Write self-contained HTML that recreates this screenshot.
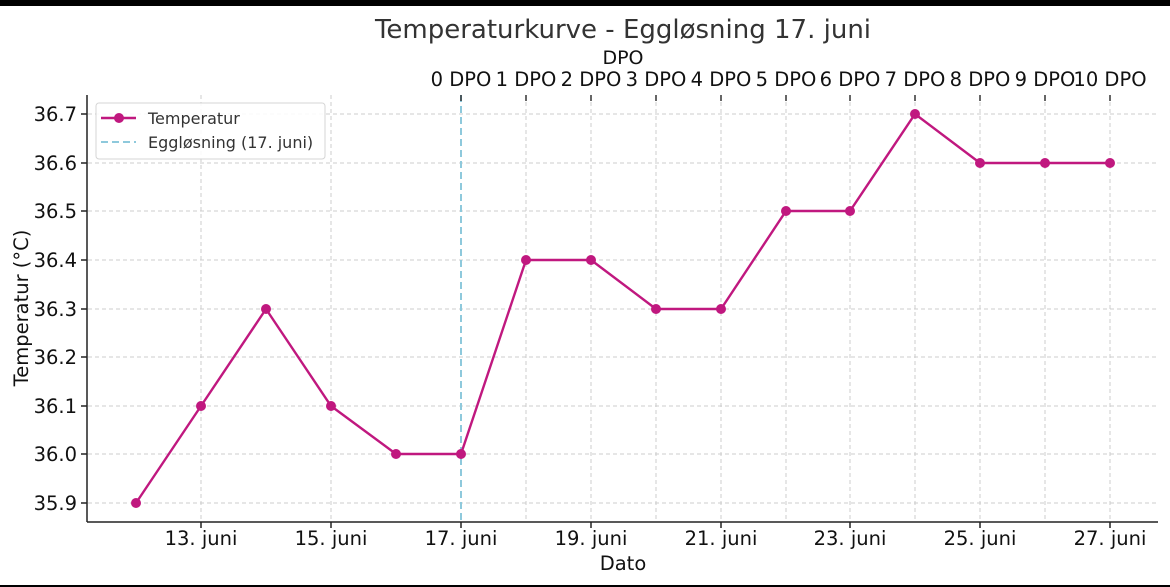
<!DOCTYPE html>
<html><head><meta charset="utf-8"><style>body{margin:0;background:#fff}svg{display:block;font-family:"DejaVu Sans","Liberation Sans",sans-serif}</style></head>
<body>
<svg width="1170" height="587" viewBox="0 0 1170 587" xmlns="http://www.w3.org/2000/svg">
<rect x="0" y="0" width="1170" height="6" fill="#000"/>
<rect x="0" y="585" width="1170" height="2" fill="#000"/>
<text x="623" y="38" font-size="26" text-anchor="middle" fill="#333">Temperaturkurve - Eggløsning 17. juni</text>
<text x="623" y="64" font-size="19" text-anchor="middle" fill="#111">DPO</text>
<g stroke="#cccccc" stroke-width="1" stroke-dasharray="4,3">
<line x1="88" x2="1158" y1="114" y2="114"/><line x1="88" x2="1158" y1="163" y2="163"/><line x1="88" x2="1158" y1="211" y2="211"/><line x1="88" x2="1158" y1="260" y2="260"/><line x1="88" x2="1158" y1="309" y2="309"/><line x1="88" x2="1158" y1="357" y2="357"/><line x1="88" x2="1158" y1="406" y2="406"/><line x1="88" x2="1158" y1="454" y2="454"/><line x1="88" x2="1158" y1="503" y2="503"/>
<line x1="201" x2="201" y1="95" y2="522"/><line x1="331" x2="331" y1="95" y2="522"/><line x1="526" x2="526" y1="95" y2="522"/><line x1="591" x2="591" y1="95" y2="522"/><line x1="656" x2="656" y1="95" y2="522"/><line x1="721" x2="721" y1="95" y2="522"/><line x1="786" x2="786" y1="95" y2="522"/><line x1="850" x2="850" y1="95" y2="522"/><line x1="915" x2="915" y1="95" y2="522"/><line x1="980" x2="980" y1="95" y2="522"/><line x1="1045" x2="1045" y1="95" y2="522"/><line x1="1110" x2="1110" y1="95" y2="522"/>
</g>
<line x1="461" x2="461" y1="95" y2="522" stroke="#8ec9dc" stroke-width="2" stroke-dasharray="7,4"/>
<g stroke="#222" stroke-width="1.5">
<line x1="87" x2="87" y1="95" y2="522"/><line x1="87" x2="1158" y1="522" y2="522"/>
<line x1="81" x2="87" y1="114" y2="114"/><line x1="81" x2="87" y1="163" y2="163"/><line x1="81" x2="87" y1="211" y2="211"/><line x1="81" x2="87" y1="260" y2="260"/><line x1="81" x2="87" y1="309" y2="309"/><line x1="81" x2="87" y1="357" y2="357"/><line x1="81" x2="87" y1="406" y2="406"/><line x1="81" x2="87" y1="454" y2="454"/><line x1="81" x2="87" y1="503" y2="503"/>
<line x1="201" x2="201" y1="522" y2="528"/><line x1="331" x2="331" y1="522" y2="528"/><line x1="461" x2="461" y1="522" y2="528"/><line x1="591" x2="591" y1="522" y2="528"/><line x1="721" x2="721" y1="522" y2="528"/><line x1="850" x2="850" y1="522" y2="528"/><line x1="980" x2="980" y1="522" y2="528"/><line x1="1110" x2="1110" y1="522" y2="528"/>
</g>
<g stroke="#333" stroke-width="1.5">
<line x1="461" x2="461" y1="95" y2="101"/><line x1="526" x2="526" y1="95" y2="101"/><line x1="591" x2="591" y1="95" y2="101"/><line x1="656" x2="656" y1="95" y2="101"/><line x1="721" x2="721" y1="95" y2="101"/><line x1="786" x2="786" y1="95" y2="101"/><line x1="850" x2="850" y1="95" y2="101"/><line x1="915" x2="915" y1="95" y2="101"/><line x1="980" x2="980" y1="95" y2="101"/><line x1="1045" x2="1045" y1="95" y2="101"/><line x1="1110" x2="1110" y1="95" y2="101"/>
</g>
<g font-size="19.5" fill="#111" text-anchor="end">
<text x="77" y="121">36.7</text><text x="77" y="170">36.6</text><text x="77" y="218">36.5</text><text x="77" y="267">36.4</text><text x="77" y="316">36.3</text><text x="77" y="364">36.2</text><text x="77" y="413">36.1</text><text x="77" y="461">36.0</text><text x="77" y="510">35.9</text>
</g>
<g font-size="19.5" fill="#111" text-anchor="middle">
<text x="201" y="545">13. juni</text><text x="331" y="545">15. juni</text><text x="461" y="545">17. juni</text><text x="591" y="545">19. juni</text><text x="721" y="545">21. juni</text><text x="850" y="545">23. juni</text><text x="980" y="545">25. juni</text><text x="1110" y="545">27. juni</text>
<text x="461" y="86">0 DPO</text><text x="526" y="86">1 DPO</text><text x="591" y="86">2 DPO</text><text x="656" y="86">3 DPO</text><text x="721" y="86">4 DPO</text><text x="786" y="86">5 DPO</text><text x="850" y="86">6 DPO</text><text x="915" y="86">7 DPO</text><text x="980" y="86">8 DPO</text><text x="1045" y="86">9 DPO</text><text x="1110" y="86">10 DPO</text>
<text x="623" y="570">Dato</text>
<text transform="translate(28,308) rotate(-90)">Temperatur (°C)</text>
</g>
<polyline fill="none" stroke="#c0187f" stroke-width="2.4" points="136,503 201,406 266,309 331,406 396,454 461,454 526,260 591,260 656,309 721,309 786,211 850,211 915,114 980,163 1045,163 1110,163"/>
<g fill="#c0187f">
<circle cx="136" cy="503" r="5"/><circle cx="201" cy="406" r="5"/><circle cx="266" cy="309" r="5"/><circle cx="331" cy="406" r="5"/><circle cx="396" cy="454" r="5"/><circle cx="461" cy="454" r="5"/><circle cx="526" cy="260" r="5"/><circle cx="591" cy="260" r="5"/><circle cx="656" cy="309" r="5"/><circle cx="721" cy="309" r="5"/><circle cx="786" cy="211" r="5"/><circle cx="850" cy="211" r="5"/><circle cx="915" cy="114" r="5"/><circle cx="980" cy="163" r="5"/><circle cx="1045" cy="163" r="5"/><circle cx="1110" cy="163" r="5"/>
</g>
<rect x="96" y="103" width="229" height="56" rx="3" fill="#fff" fill-opacity="0.85" stroke="#d5d5d5"/>
<line x1="101" x2="136" y1="118" y2="118" stroke="#c0187f" stroke-width="2.4"/>
<circle cx="119" cy="118" r="5" fill="#c0187f"/>
<line x1="101" x2="136" y1="142" y2="142" stroke="#8ec9dc" stroke-width="2" stroke-dasharray="7,4"/>
<text x="148" y="124" font-size="16" fill="#333">Temperatur</text>
<text x="148" y="148" font-size="16" fill="#333">Eggløsning (17. juni)</text>
</svg>
</body></html>
